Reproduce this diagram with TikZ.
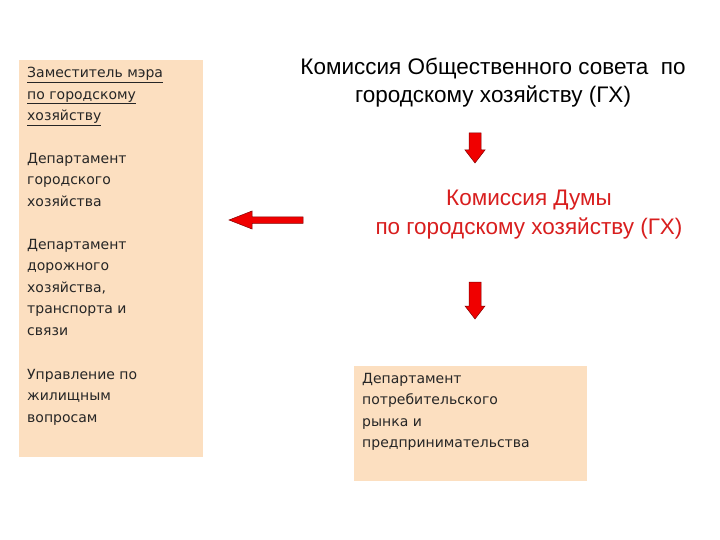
\documentclass[tikz,border=0pt]{standalone}
\usepackage{fontspec}
\setmainfont{Liberation Sans}
\newfontfamily\dvs{DejaVu Sans}
\definecolor{peach}{HTML}{FCDFC0}
\definecolor{arr}{HTML}{F00000}
\definecolor{rtxt}{HTML}{D81E1E}
\begin{document}
\begin{tikzpicture}[x=1pt,y=-1pt,
  ltxt/.style={anchor=north west,align=left,font=\dvs\fontsize{14}{21.5}\selectfont,inner sep=0pt,text=black!85},
  blk/.style={fill=arr,draw=red!50!black,line width=0.5pt}]
\useasboundingbox (0,0) rectangle (720,540);
\fill[peach] (19,60) rectangle (203,457);
\fill[peach] (354,366) rectangle (587,481);
\node[ltxt] (a) at (27,67) {\underline{Заместитель мэра}\\\underline{по городскому}\\\underline{хозяйству}};
\node[ltxt] (b) at (27,153) {Департамент\\городского\\хозяйства};
\node[ltxt] (c) at (27,239) {Департамент\\дорожного\\хозяйства,\\транспорта и\\связи};
\node[ltxt] (d) at (27,369) {Управление по\\жилищным\\вопросам};
\node[ltxt] (e) at (362,373) {Департамент\\потребительского\\рынка и\\предпринимательства};
\node[align=center,font=\fontsize{22.5}{28}\selectfont] (t) at (493,83) {Комиссия Общественного совета\ \ по\\городскому хозяйству (ГХ)};
\node[align=center,font=\fontsize{22.5}{29}\selectfont,text=rtxt] (m) at (529,215) {Комиссия Думы\\по городскому хозяйству (ГХ)};
\draw[blk] (469,133)--(481,133)--(481,150)--(485,150)--(475,163)--(465,150)--(469,150)--cycle;
\draw[blk] (469,282)--(481,282)--(481,306)--(485,306)--(475,319)--(465,306)--(469,306)--cycle;
\draw[blk] (303,217)--(252,217)--(252,211)--(229,220)--(252,229)--(252,223.5)--(303,223.5)--cycle;
\end{tikzpicture}
\end{document}
